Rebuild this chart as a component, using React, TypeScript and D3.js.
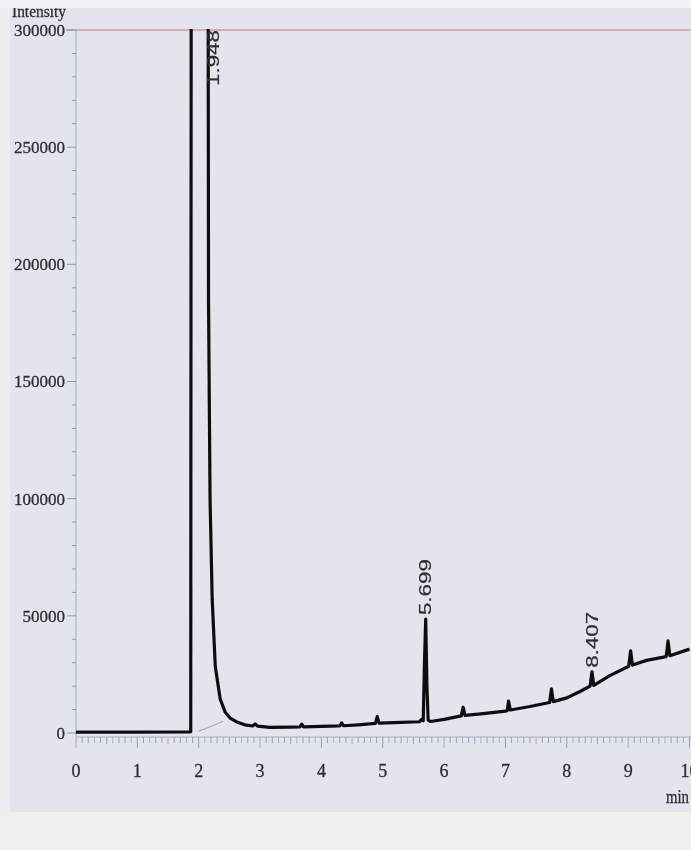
import React from "react";
import * as d3 from "d3";

const times: number[] = [0, 1.0, 1.85, 1.87, 1.88, 2.15, 2.16, 2.185, 2.22, 2.27, 2.35, 2.43, 2.52, 2.62, 2.75, 2.88, 2.92, 2.96, 3.16, 3.5, 3.65, 3.68, 3.71, 4.0, 4.3, 4.33, 4.36, 4.6, 4.88, 4.91, 4.94, 5.3, 5.6, 5.63, 5.66, 5.68, 5.70, 5.72, 5.74, 5.78, 6.0, 6.28, 6.31, 6.34, 6.6, 7.0, 7.03, 7.05, 7.08, 7.4, 7.72, 7.75, 7.78, 8.0, 8.2, 8.38, 8.41, 8.44, 8.7, 9.01, 9.04, 9.07, 9.3, 9.62, 9.65, 9.68, 10.0];
const intensity: number[] = [400, 400, 450, 500, 420000, 420000, 185000, 100000, 57000, 28500, 14500, 9000, 6200, 4700, 3500, 3000, 3900, 2900, 2400, 2500, 2600, 3800, 2600, 2800, 3000, 4300, 3100, 3500, 4100, 7000, 4200, 4500, 4800, 5800, 5200, 30000, 48600, 20000, 5500, 4900, 5800, 7300, 11000, 7500, 8200, 9300, 9600, 13600, 9800, 11300, 13000, 18800, 13400, 15000, 17500, 20000, 26100, 20300, 24500, 28500, 35100, 29000, 31000, 32600, 39300, 33000, 35800];

const integTimes: number[] = [2.0, 2.2, 2.4];
const integValues: number[] = [800, 2800, 5000];

const yTicks: number[] = [0, 50000, 100000, 150000, 200000, 250000, 300000];
const xTicks: number[] = [0, 1, 2, 3, 4, 5, 6, 7, 8, 9, 10];
const peakLabels: { t: number; v: number; label: string }[] = [
  { t: 2.15, v: 300000, label: "1.948" },
  { t: 5.70, v: 48600, label: "5.699" },
  { t: 8.41, v: 26100, label: "8.407" },
];

const W = 691;
const H = 850;

export default function App() {
  const x = d3.scaleLinear().domain([0, 10]).range([76, 689.5]);
  const y = d3.scaleLinear().domain([0, 300000]).range([733, 30]);
  const pts = times.map((t, i) => [t, intensity[i]] as [number, number]);
  const line = d3
    .line<[number, number]>()
    .x((d) => x(d[0]))
    .y((d) => y(d[1]));
  const integPts = integTimes.map((t, i) => [t, integValues[i]] as [number, number]);
  const yMinor = d3.range(0, 300001, 10000);
  const xMinor = d3.range(0, 100.5, 1).map((v) => v / 10);
  const serif = "'Liberation Serif', 'DejaVu Serif', serif";
  const sans = "'Liberation Sans', Arial, sans-serif";
  const axisY = 737;
  const ink = "#2e2e30";

  return (
    <svg
      width={W}
      height={H}
      style={{ position: "absolute", left: 0, top: 0 }}
      xmlns="http://www.w3.org/2000/svg"
    >
      <defs>
        <clipPath id="plotClip">
          <rect x={70} y={29} width={625} height={720} />
        </clipPath>
        <filter id="soft" x="-5%" y="-5%" width="110%" height="110%">
          <feGaussianBlur stdDeviation="0.5" />
        </filter>
      </defs>
      <rect x={0} y={0} width={W} height={H} fill="#e3e4ee" />
      <rect x={0} y={0} width={10} height={H} fill="#eceef1" />
      <rect x={0} y={812} width={W} height={38} fill="#efefec" />

      <g filter="url(#soft)">
        <text x={12} y={17} fontFamily={serif} fontSize={17} fill={ink} stroke={ink} strokeWidth={0.3} textLength={54} lengthAdjust="spacingAndGlyphs">
          Intensity
        </text>

        <line x1={66} x2={W} y1={y(300000)} y2={y(300000)} stroke="#d4aeb0" strokeWidth={2} />

        <line x1={x(0)} x2={x(0)} y1={y(300000)} y2={axisY} stroke="#9fb2c2" strokeWidth={1} />
        {yMinor.map((v) => (
          <line
            key={"ym" + v}
            x1={x(0) - (v % 50000 === 0 ? 9 : 4)}
            x2={x(0)}
            y1={y(v)}
            y2={y(v)}
            stroke="#8f9aaa"
            strokeWidth={1}
          />
        ))}
        {yTicks.map((v) => (
          <text
            key={"yl" + v}
            x={65}
            y={y(v)}
            dy="0.35em"
            textAnchor="end"
            fontFamily={serif}
            fontSize={17}
            fill={ink}
            stroke={ink}
            strokeWidth={0.3}
          >
            {v}
          </text>
        ))}

        <line x1={x(0)} x2={W} y1={axisY} y2={axisY} stroke="#b4c2d6" strokeWidth={1.5} />
        {xMinor.map((v, i) => (
          <line
            key={"xm" + i}
            x1={x(v)}
            x2={x(v)}
            y1={axisY}
            y2={axisY + (i % 10 === 0 ? 11 : i % 5 === 0 ? 7 : 6)}
            stroke={i % 3 === 0 ? "#c0a4ac" : "#98a0b4"}
            strokeWidth={1}
          />
        ))}
        {xTicks.map((v) => (
          <text
            key={"xl" + v}
            x={x(v)}
            y={777}
            textAnchor="middle"
            fontFamily={serif}
            fontSize={18}
            fill={ink}
            stroke={ink}
            strokeWidth={0.3}
          >
            {v}
          </text>
        ))}
        <text x={666} y={803} fontFamily={serif} fontSize={18} fill={ink} stroke={ink} strokeWidth={0.3} textLength={23} lengthAdjust="spacingAndGlyphs">
          min
        </text>

        <path d={line(integPts) || ""} fill="none" stroke="#a9a9b0" strokeWidth={1.2} />

        <g clipPath="url(#plotClip)">
          <path
            d={line(pts) || ""}
            fill="none"
            stroke="#111"
            strokeWidth={3.2}
            strokeLinejoin="round"
          />
        </g>

        {peakLabels.map((p) => {
          const px = x(p.t) + (p.label === "1.948" ? 5 : 0);
          const py = p.label === "1.948" ? 86 : y(p.v) - 4;
          return (
            <text
              key={p.label}
              transform={`translate(${px},${py}) rotate(-90)`}
              dy="0.35em"
              fontFamily={sans}
              fontSize={16}
              fill={ink}
              stroke={ink}
              strokeWidth={0.2}
              textLength={56}
              lengthAdjust="spacingAndGlyphs"
            >
              {p.label}
            </text>
          );
        })}
      </g>
      <rect x={0} y={0} width={W} height={8} fill="#f2f2f4" />
    </svg>
  );
}
